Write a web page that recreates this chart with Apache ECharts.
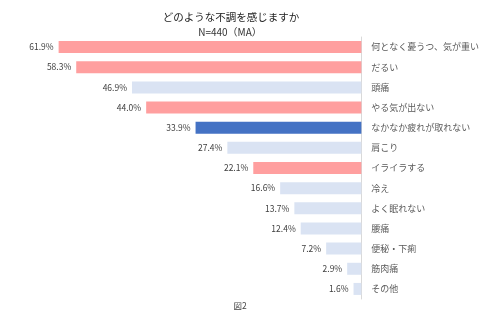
<!DOCTYPE html>
<html><head><meta charset="utf-8">
<script src="https://cdn.jsdelivr.net/npm/echarts@6/dist/echarts.min.js"></script>
<style>html,body{margin:0;padding:0;background:#fff}#c{width:482px;height:321px}</style>
</head><body><div id="c"></div>
<script>
const categories = ['何となく憂うつ、気が重い','だるい','頭痛','やる気が出ない','なかなか疲れが取れない','肩こり','イライラする','冷え','よく眠れない','腰痛','便秘・下痢','筋肉痛','その他'];
const values = [61.9, 58.3, 46.9, 44.0, 33.9, 27.4, 22.1, 16.6, 13.7, 12.4, 7.2, 2.9, 1.6];
const titleText = 'どのような不調を感じますか';
const subtitleText = 'N=440（MA）';
const footerText = '図2';
const pinkCats = ['何となく憂うつ、気が重い','だるい','やる気が出ない','イライラする'];
const darkCats = ['なかなか疲れが取れない'];

const FONT = '"Noto Sans CJK JP", "Noto Sans", sans-serif';
function colorFor(c){
  if (pinkCats.includes(c)) return '#FF9F9F';
  if (darkCats.includes(c)) return '#4472C4';
  return '#DAE3F3';
}
const chart = echarts.init(document.getElementById('c'), null, {renderer:'canvas'});
chart.setOption({
  backgroundColor:'#fff',
  animation:false,
  title:[
    {text:titleText, left:226, top:7, textAlign:'center', textStyle:{fontFamily:FONT, fontSize:10.5, fontWeight:'normal', color:'#222'}},
    {text:subtitleText, left:225, top:22, textAlign:'center', textStyle:{fontFamily:FONT, fontSize:10, fontWeight:'normal', color:'#333'}},
    {text:footerText, left:235, top:297, textAlign:'center', textStyle:{fontFamily:FONT, fontSize:8.5, fontWeight:'normal', color:'#444'}}
  ],
  grid:{left:19, right:119, top:37, bottom:22, containLabel:false},
  xAxis:{type:'value', min:0, max:70, inverse:true, show:false},
  yAxis:{type:'category', data:categories, inverse:true, position:'right',
    axisLine:{show:true, lineStyle:{color:'#D9D9D9', width:1}},
    axisTick:{show:false},
    axisLabel:{fontFamily:FONT, fontSize:9, color:'#595959', margin:10}
  },
  series:[{
    type:'bar', barWidth:12,
    data: values.map((v,i)=>({value:v, itemStyle:{color:colorFor(categories[i])}})),
    label:{show:true, position:'left', distance:5, fontFamily:FONT, fontSize:8.5, color:'#404040',
      formatter:p=>p.value.toFixed(1)+'%'}
  }]
});
</script></body></html>
